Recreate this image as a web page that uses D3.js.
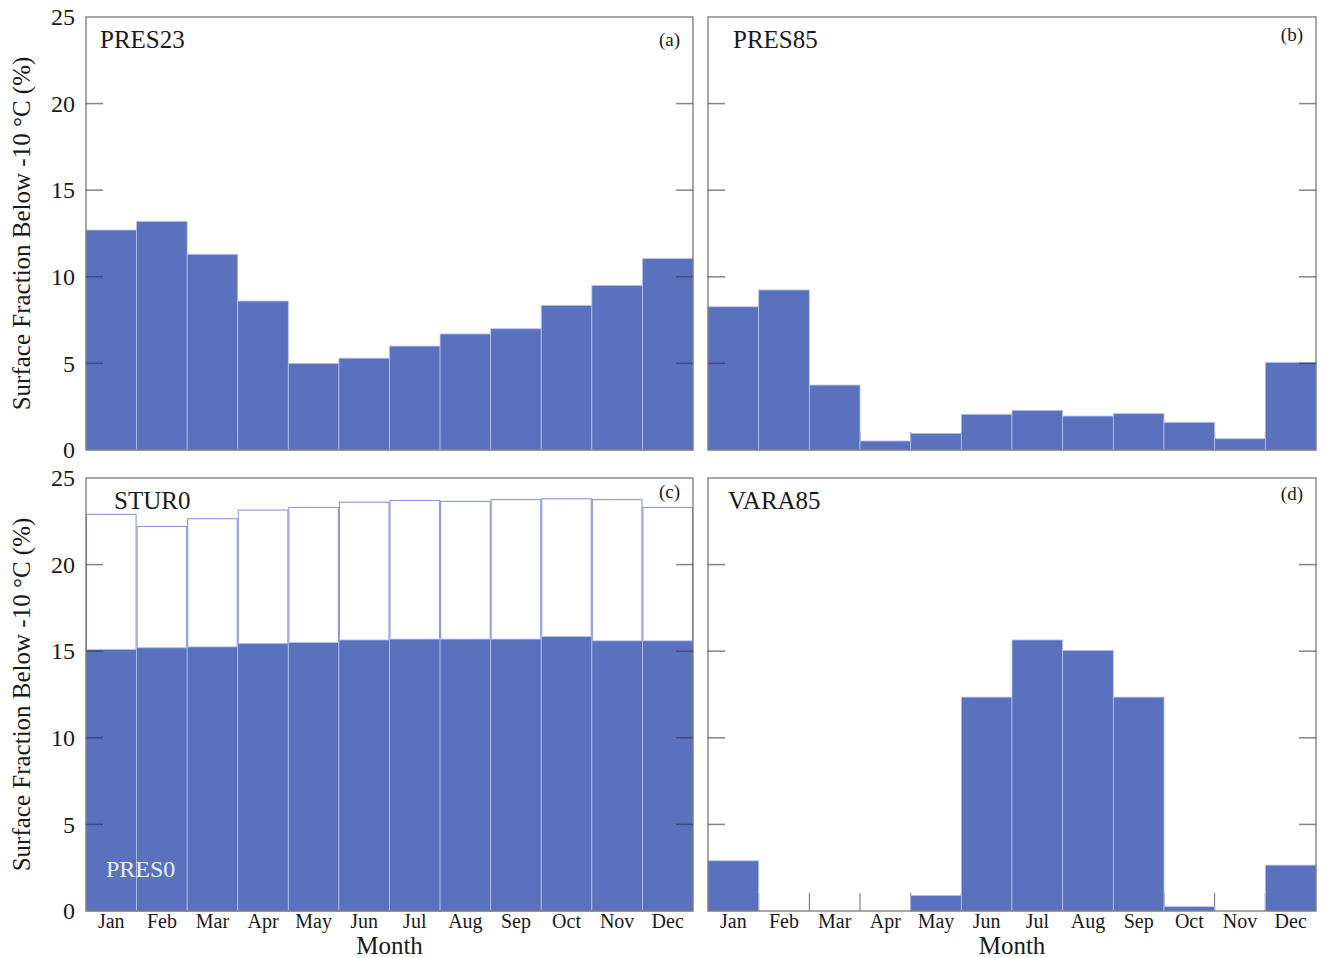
<!DOCTYPE html>
<html>
<head>
<meta charset="utf-8">
<script src="https://cdn.jsdelivr.net/npm/d3@7"></script>
<style>
  html, body { margin: 0; padding: 0; background: #fff; }
  svg { display: block; }
  text { font-family: "Liberation Serif", "Times New Roman", serif; fill: #1a1a1a; }
</style>
</head>
<body>
<svg id="chart" width="1324" height="958"></svg>
<script>
// Monthly surface fraction below -10 °C (%)
const months = ["Jan","Feb","Mar","Apr","May","Jun","Jul","Aug","Sep","Oct","Nov","Dec"];
const yTicks = [0, 5, 10, 15, 20, 25];

const pres23 = [12.7, 13.2, 11.3, 8.6, 5.0, 5.3, 6.0, 6.7, 7.0, 8.35, 9.5, 11.05];
const pres85 = [8.27, 9.24, 3.75, 0.52, 0.96, 2.06, 2.29, 1.96, 2.1, 1.6, 0.65, 5.06];
const stur0  = [22.9, 22.2, 22.65, 23.15, 23.3, 23.6, 23.7, 23.65, 23.75, 23.8, 23.75, 23.3];
const pres0  = [15.1, 15.2, 15.25, 15.45, 15.5, 15.65, 15.7, 15.7, 15.7, 15.85, 15.6, 15.6];
const vara85 = [2.9, 0, 0, 0, 0.9, 12.35, 15.65, 15.05, 12.35, 0.25, 0, 2.65];

const BAR = "#5a72be";
const BAR_EDGE = "#b9c1ec";
const OUTLINE = "#8e96dc";
const FRAME = "#6e6e6e";

const svg = d3.select("#chart");

const panels = [
  { x0: 86,  x1: 693,  y0: 17,  y1: 450, name: "PRES23", tag: "(a)", tagY: 46,  fill: pres23, yLabels: true,  xLabels: false, nameX: 100, nameY: 48 },
  { x0: 708, x1: 1316, y0: 17,  y1: 450, name: "PRES85", tag: "(b)", tagY: 41,  fill: pres85, yLabels: false, xLabels: false, nameX: 733, nameY: 48 },
  { x0: 86,  x1: 693,  y0: 478, y1: 911, name: "STUR0",  tag: "(c)", tagY: 498, fill: pres0, outline: stur0, inner: "PRES0", yLabels: true, xLabels: true, nameX: 114, nameY: 509 },
  { x0: 708, x1: 1316, y0: 478, y1: 911, name: "VARA85", tag: "(d)", tagY: 500, fill: vara85, yLabels: false, xLabels: true, nameX: 728, nameY: 509 }
];

panels.forEach(p => {
  const g = svg.append("g");
  const x = d3.scaleBand().domain(months).range([p.x0, p.x1]).padding(0);
  const y = d3.scaleLinear().domain([0, 25]).range([p.y1, p.y0]);

  // bottom ticks at month boundaries (drawn beneath bars)
  const bounds = d3.range(1, months.length).map(i => x(months[i]));
  g.selectAll(".xt").data(bounds).join("line")
    .attr("x1", d => d).attr("x2", d => d)
    .attr("y1", p.y1).attr("y2", p.y1 - 18)
    .attr("stroke", FRAME).attr("stroke-width", 1);

  // unfilled outline bars (STUR0)
  if (p.outline) {
    const od = months.map((m, i) => ({ m, v: p.outline[i] }));
    g.selectAll(".ob").data(od).join("rect")
      .attr("x", d => x(d.m) + 0.5)
      .attr("y", d => y(d.v))
      .attr("width", x.bandwidth() - 1)
      .attr("height", d => y(0) - y(d.v))
      .attr("fill", "none")
      .attr("stroke", OUTLINE)
      .attr("stroke-width", 1.1);
  }

  // filled bars
  const fd = months.map((m, i) => ({ m, v: p.fill[i] })).filter(d => d.v > 0);
  g.selectAll(".fb").data(fd).join("rect")
    .attr("x", d => x(d.m))
    .attr("y", d => y(d.v))
    .attr("width", x.bandwidth())
    .attr("height", d => y(0) - y(d.v))
    .attr("fill", BAR)
    .attr("stroke", BAR_EDGE)
    .attr("stroke-width", 0.8);

  // frame
  g.append("rect")
    .attr("x", p.x0).attr("y", p.y0)
    .attr("width", p.x1 - p.x0).attr("height", p.y1 - p.y0)
    .attr("fill", "none").attr("stroke", FRAME).attr("stroke-width", 1.2);

  // inward y ticks on both sides
  const inner = yTicks.filter(t => t > 0 && t < 25);
  [[p.x0, 17], [p.x1, -17]].forEach(([sx, len]) => {
    g.selectAll(null).data(inner).join("line")
      .attr("x1", sx).attr("x2", sx + len)
      .attr("y1", d => y(d)).attr("y2", d => y(d))
      .attr("stroke", "#2f2f55").attr("stroke-opacity", 0.6).attr("stroke-width", 1.5);
  });

  if (p.yLabels) {
    const ax = d3.axisLeft(y).tickValues(yTicks).tickSize(0).tickPadding(0);
    const ag = g.append("g").attr("transform", `translate(${p.x0 - 11},0)`).call(ax);
    ag.select(".domain").remove();
    ag.selectAll("text").attr("font-size", 24).attr("fill", "#1a1a1a")
      .style("font-family", '"Liberation Serif", serif');

    g.append("text")
      .attr("transform", `translate(30,${(p.y0 + p.y1) / 2}) rotate(-90)`)
      .attr("text-anchor", "middle")
      .attr("font-size", 25)
      .text("Surface Fraction Below -10 °C (%)");
  }

  if (p.xLabels) {
    const ax = d3.axisBottom(x).tickSize(0).tickPadding(0);
    const ag = g.append("g").attr("transform", `translate(0,${p.y1 + 3})`).call(ax);
    ag.select(".domain").remove();
    ag.selectAll("text").attr("font-size", 20).attr("fill", "#1a1a1a")
      .style("font-family", '"Liberation Serif", serif');

    g.append("text")
      .attr("x", (p.x0 + p.x1) / 2)
      .attr("y", 954)
      .attr("text-anchor", "middle")
      .attr("font-size", 25)
      .text("Month");
  }

  g.append("text").attr("x", p.nameX).attr("y", p.nameY)
    .attr("font-size", 25).text(p.name);
  g.append("text").attr("x", p.x1 - 13).attr("y", p.tagY)
    .attr("text-anchor", "end").attr("font-size", 19).text(p.tag);

  if (p.inner) {
    g.append("text").attr("x", 106).attr("y", 877)
      .attr("font-size", 24).style("fill", "#e8ecff").text(p.inner);
  }
});
</script>
</body>
</html>
